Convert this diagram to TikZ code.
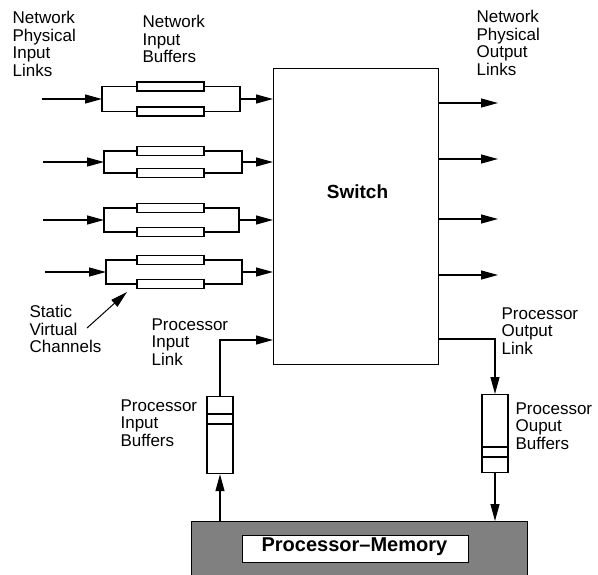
\documentclass[tikz,border=0pt]{standalone}
\usepackage{fontspec}
\setmainfont{Liberation Sans}
\usetikzlibrary{arrows.meta}
\begin{document}
\begin{tikzpicture}[x=1pt,y=-1pt,line width=1.2pt,
  arr/.style={-{Triangle[length=17pt,width=9pt]}},
  lbl/.style={anchor=north west,inner sep=0pt,align=left,font=\fontsize{17}{17.5}\selectfont},
  buf/.style={draw,fill=white,minimum width=67pt,minimum height=9pt,inner sep=0pt,line width=1.1pt},
  pbuf/.style={draw,fill=white,minimum width=26pt,inner sep=0pt,anchor=north}]
\useasboundingbox (0,0) rectangle (598,574);
% switch
\node[draw,minimum width=165pt,minimum height=296pt,anchor=north west,inner sep=0pt] (sw) at (273,68) {};
\node[font=\fontsize{19}{19}\selectfont\bfseries] (swt) at (357.5,191.5) {Switch};
% input link groups
\foreach \i/\y/\L/\R/\h/\s in {1/99/102/240/12.5/42, 2/162/104/242/11/43, 3/220/104/239/12/43, 4/272/106/242/12/45}{
  \coordinate (in\i) at (\s,\y);
  \coordinate (bl\i) at (\L,\y);
  \coordinate (br\i) at (\R,\y);
  \draw[arr] (in\i) -- (bl\i);
  \draw (\R,\y-\h) -- (\L,\y-\h) -- (\L,\y+\h) -- (\R,\y+\h) -- cycle;
  \node[buf] (bt\i) at (170.5,\y-\h) {};
  \node[buf] (bb\i) at (170.5,\y+\h) {};
  \draw[arr] (br\i) -- (br\i -| sw.west);
}
% output links
\foreach \i/\y in {1/103,2/159,3/219,4/275}{
  \coordinate (out\i) at (498,\y);
  \draw[arr] (out\i -| sw.east) -- (out\i);
}
% processor-memory
\node[draw,fill=gray,minimum width=336pt,minimum height=60pt,anchor=north west,inner sep=0pt] (pm) at (191,521) {};
\node[draw,fill=white,minimum width=226pt,minimum height=27pt,anchor=north west,inner sep=0pt] (pmi) at (242,535) {};
\node[anchor=base west,inner sep=0pt,font=\fontsize{20}{20}\selectfont\bfseries] (pmt) at (261,551) {Processor–Memory};
% processor input buffer
\node[pbuf,minimum height=77pt] (pib) at (220,396) {};
\draw (207,414) -- (233,414);
\draw (207,424) -- (233,424);
\coordinate (pil) at (220,340);
\draw[arr] (pib.north) -- (pil) -- (pil -| sw.west);
\draw[arr] (pm.north -| pib.south) -- (pib.south);
% processor output buffer
\node[pbuf,minimum height=78pt] (pob) at (495,394) {};
\draw (482,447) -- (508,447);
\draw (482,457) -- (508,457);
\coordinate (pol) at (495,339);
\draw[arr] (pol -| sw.east) -- (pol) -- (pob.north);
\draw[arr] (pob.south) -- (pob.south |- pm.north);
% static virtual channels pointer
\coordinate (svcs) at (87,328);
\coordinate (svce) at (127,292);
\draw[arr,line width=1pt] (svcs) -- (svce);
% labels
\node[lbl] (l1) at (12,11) {Network\\Physical\\Input\\Links};
\node[lbl] (l2) at (142,15) {Network\\Input\\Buffers};
\node[lbl] (l3) at (476,10) {Network\\Physical\\Output\\Links};
\node[lbl] (l4) at (29,305) {Static\\Virtual\\Channels};
\node[lbl] (l5) at (151,318) {Processor\\Input\\Link};
\node[lbl] (l6) at (120,399) {Processor\\Input\\Buffers};
\node[lbl] (l7) at (501,307) {Processor\\Output\\Link};
\node[lbl] (l8) at (515,402) {Processor\\Ouput\\Buffers};
\end{tikzpicture}
\end{document}
